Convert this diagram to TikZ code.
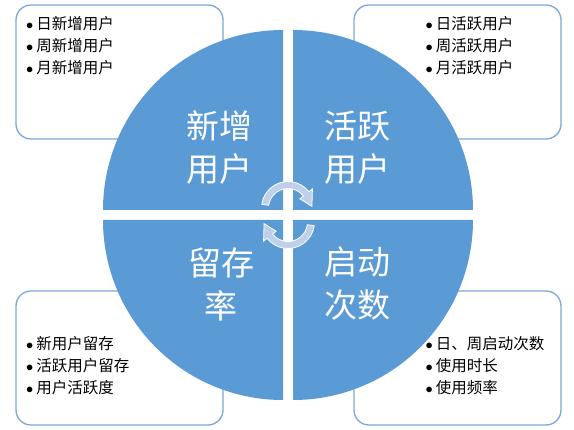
\documentclass[tikz,border=0pt]{standalone}
\usepackage{fontspec}
\setmainfont{Noto Sans CJK SC}
\definecolor{quadblue}{RGB}{91,155,213}
\definecolor{boxline}{RGB}{125,168,218}
\definecolor{arrowfill}{RGB}{190,208,234}
\newcommand{\itm}{$\bullet$\hspace{3pt}}

\begin{document}
\begin{tikzpicture}[x=1pt, y=1pt,
    infobox/.style={draw=boxline, line width=1.3pt, rounded corners=15pt, fill=white,
        minimum width=207pt, minimum height=134pt, inner sep=0pt},
    itemlist/.style={align=left, inner sep=0pt, anchor=west,
        font=\fontsize{15.5}{22}\selectfont},
    quadlabel/.style={align=center, text=white, inner sep=0pt,
        font=\fontsize{33}{43}\selectfont},
    cyclearrow/.style={fill=arrowfill, draw=white, line width=0.8pt}]
\useasboundingbox (0,0) rectangle (574,430);

% boxes behind the circle
\node[infobox] (newbox) at (119.5,358) {};
\node[infobox] (activebox) at (457.5,358) {};
\node[infobox] (retainbox) at (119.5,72) {};
\node[infobox] (launchbox) at (457.5,72) {};

% four quarters of the circle
\fill[quadblue] (283,220) -- ++(-180,0) arc[start angle=180, end angle=90, radius=180] -- cycle;
\fill[quadblue] (293,220) -- ++(0,180) arc[start angle=90, end angle=0, radius=180] -- cycle;
\fill[quadblue] (283,210) -- ++(-180,0) arc[start angle=180, end angle=270, radius=180] -- cycle;
\fill[quadblue] (293,210) -- ++(180,0) arc[start angle=0, end angle=-90, radius=180] -- cycle;

% the two round arrows
\draw[cyclearrow, shift={(288,222)}] (172:26.5) arc[start angle=172, end angle=38, radius=26.5]
    -- (38:31) -- (4:24) -- (38:15) -- (38:19.5)
    arc[start angle=38, end angle=172, radius=19.5] -- cycle;
\draw[cyclearrow, shift={(288,208)}, rotate=180] (172:26.5) arc[start angle=172, end angle=38, radius=26.5]
    -- (38:31) -- (4:24) -- (38:15) -- (38:19.5)
    arc[start angle=38, end angle=172, radius=19.5] -- cycle;

% labels on the quarters
\node[quadlabel] (newlabel) at (219,282) {新增\\用户};
\node[quadlabel] (activelabel) at (357,282) {活跃\\用户};
\node[quadlabel] (retainlabel) at (221,146) {留存\\率};
\node[quadlabel] (launchlabel) at (357,146) {启动\\次数};

% lists in the boxes
\node[itemlist] (newlist) at (26,384) {\itm 日新增用户\\ \itm 周新增用户\\ \itm 月新增用户};
\node[itemlist] (activelist) at (425.5,384) {\itm 日活跃用户\\ \itm 周活跃用户\\ \itm 月活跃用户};
\node[itemlist] (retainlist) at (26,64) {\itm 新用户留存\\ \itm 活跃用户留存\\ \itm 用户活跃度};
\node[itemlist] (launchlist) at (425.5,64) {\itm 日、周启动次数\\ \itm 使用时长\\ \itm 使用频率};
\end{tikzpicture}
\end{document}
